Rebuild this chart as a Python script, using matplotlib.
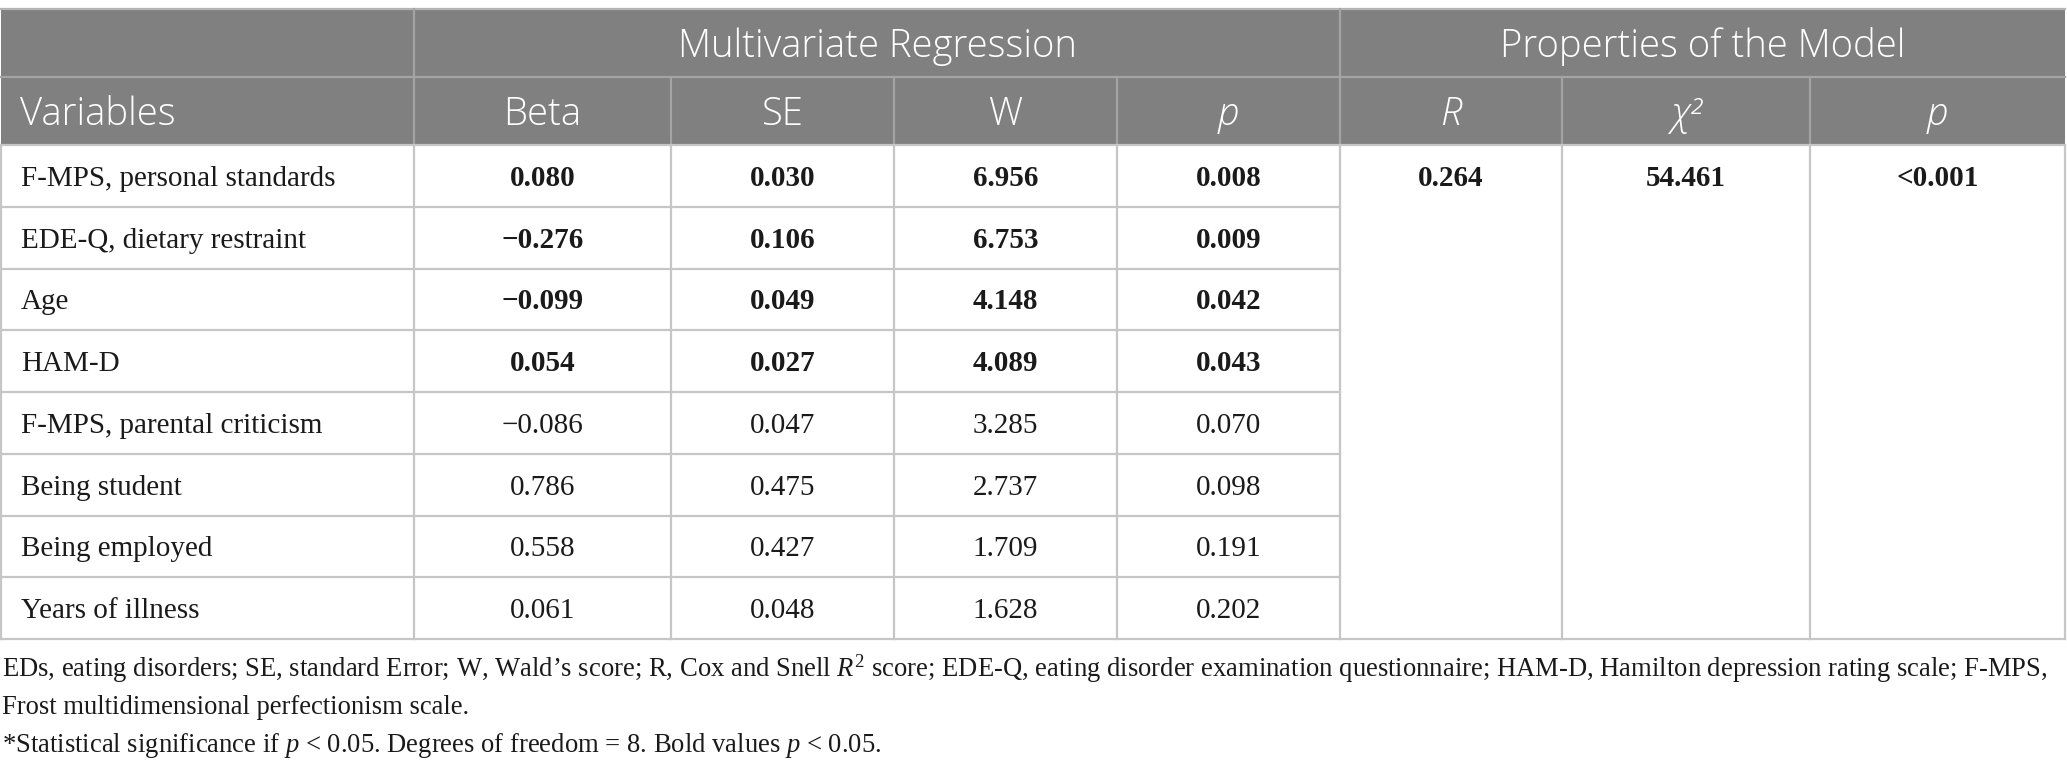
import matplotlib
matplotlib.use("Agg")
import matplotlib.pyplot as plt
from matplotlib.patches import Rectangle

# table contents
variables = ["F-MPS, personal standards", "EDE-Q, dietary restraint", "Age", "HAM-D",
             "F-MPS, parental criticism", "Being student", "Being employed", "Years of illness"]
beta = [0.080, -0.276, -0.099, 0.054, -0.086, 0.786, 0.558, 0.061]
se = [0.030, 0.106, 0.049, 0.027, 0.047, 0.475, 0.427, 0.048]
wald = [6.956, 6.753, 4.148, 4.089, 3.285, 2.737, 1.709, 1.628]
pvals = [0.008, 0.009, 0.042, 0.043, 0.070, 0.098, 0.191, 0.202]
model_r = "0.264"
model_chi2 = "54.461"
model_p = "<0.001"

group_headers = ["Multivariate Regression", "Properties of the Model"]
col_headers = ["Variables", "Beta", "SE", "W", "p", "R", "\u03c7\u00b2", "p"]
italic_headers = [False, False, False, False, True, True, True, True]

notes = [
    "EDs, eating disorders; SE, standard Error; W, Wald\u2019s score; R, Cox and Snell $R^2$ score; "
    "EDE-Q, eating disorder examination questionnaire; HAM-D, Hamilton depression rating scale; F-MPS,",
    "Frost multidimensional perfectionism scale.",
    "*Statistical significance if $p$ < 0.05. Degrees of freedom = 8. Bold values $p$ < 0.05.",
]

plt.rcParams['mathtext.fontset'] = 'custom'
plt.rcParams['mathtext.rm'] = 'Liberation Serif'
plt.rcParams['mathtext.it'] = 'Liberation Serif:italic'

W, H = 2067, 772
fig = plt.figure(figsize=(W / 100, H / 100), dpi=100)
ax = fig.add_axes([0, 0, 1, 1])
ax.set_xlim(0, W)
ax.set_ylim(H, 0)
ax.axis('off')

# layout
xs = [1, 414, 671, 894, 1117, 1340, 1562, 1810, 2065]
top, h1, h2 = 9, 77, 145
row_h = 61.75
nrows = len(variables)
bottom = h2 + nrows * row_h

head_col = '#808080'
line_body = '#c6c6c6'
line_head = '#a4a4a4'
text_col = '#1a1a1a'
hfont = 'Open Sans'
bfont = 'Liberation Serif'
hsize = 27.5
bsize = 21

ax.add_patch(Rectangle((xs[0], top), xs[-1] - xs[0], h2 - top, color=head_col, lw=0))
lw = 1.6
ax.plot([xs[0], xs[-1]], [top, top], color='#b5b5b5', lw=lw)
ax.plot([xs[0], xs[-1]], [h1, h1], color=line_head, lw=lw)
for x in [xs[1], xs[5]]:
    ax.plot([x, x], [top, h1], color=line_head, lw=lw)
for x in xs[1:-1]:
    ax.plot([x, x], [h1, h2], color=line_head, lw=lw)

# body lines
for i in range(nrows + 1):
    y = h2 + i * row_h
    x_end = xs[5] if 0 < i < nrows else xs[-1]
    ax.plot([xs[0], x_end], [y, y], color=line_body, lw=lw)
for x in xs:
    ax.plot([x, x], [h2, bottom], color=line_body, lw=lw)

# header text
hb1 = (top + h1) / 2 + 14
hb2 = (h1 + h2) / 2 + 14
ax.text((xs[1] + xs[5]) / 2, hb1, group_headers[0], color='white',
        fontsize=hsize, family=hfont, weight='light', ha='center', va='baseline')
ax.text((xs[5] + xs[-1]) / 2, hb1, group_headers[1], color='white',
        fontsize=hsize, family=hfont, weight='light', ha='center', va='baseline')
for j, lab in enumerate(col_headers):
    style = 'italic' if italic_headers[j] else 'normal'
    if j == 0:
        ax.text(20, hb2, lab, color='white', fontsize=hsize, family=hfont,
                weight='light', ha='left', va='baseline')
    else:
        ax.text((xs[j] + xs[j + 1]) / 2, hb2, lab, color='white', fontsize=hsize,
                family=hfont, weight='light', style=style, ha='center', va='baseline')


def fmt(v):
    return f"{v:.3f}".replace('-', '\u2212')


for i in range(nrows):
    yb = h2 + i * row_h + row_h / 2 + 10
    wt = 'bold' if pvals[i] < 0.05 else 'normal'
    ax.text(21, yb, variables[i], color=text_col, fontsize=bsize, family=bfont,
            ha='left', va='baseline')
    for j, col in enumerate([beta, se, wald, pvals]):
        ax.text((xs[j + 1] + xs[j + 2]) / 2, yb, fmt(col[i]), color=text_col, fontsize=bsize,
                family=bfont, weight=wt, ha='center', va='baseline')

yb = h2 + row_h / 2 + 10
for j, val in enumerate([model_r, model_chi2, model_p]):
    ax.text((xs[5 + j] + xs[6 + j]) / 2, yb, val, color=text_col, fontsize=bsize, family=bfont,
            weight='bold', ha='center', va='baseline')

# footnotes
for k, line in enumerate(notes):
    ax.text(2, 677 + k * 37.5, line, color=text_col, fontsize=19.2, family=bfont,
            ha='left', va='baseline')

fig.savefig('out.png', dpi=100, facecolor='white')
